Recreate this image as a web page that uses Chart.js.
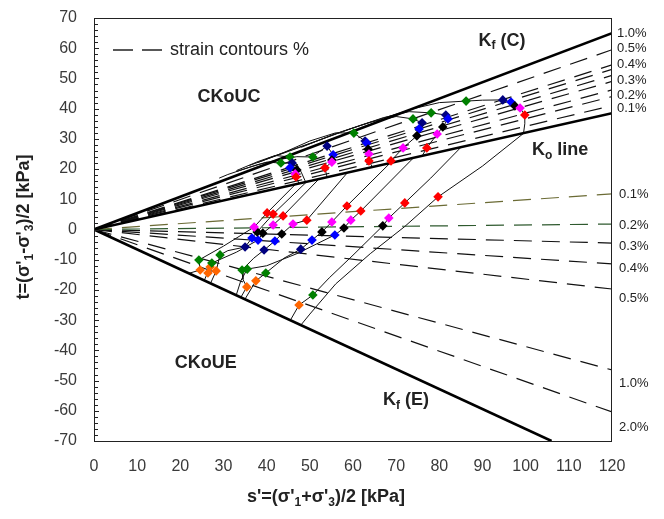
<!DOCTYPE html>
<html>
<head>
<meta charset="utf-8">
<script src="https://cdn.jsdelivr.net/npm/chart.js@4.4.0/dist/chart.umd.min.js"></script>
<style>
  html, body { margin: 0; padding: 0; background: #fff; }
</style>
</head>
<body>
<canvas id="stressPath" width="664" height="519"></canvas>
<script>
'use strict';

// failure envelopes and Ko line, [s', t] in kPa
const KF_C = [[0, 0], [120, 65]];
const KO_LINE = [[0, 0], [120, 38.5]];
const KF_E = [[0, 0], [106, -70]];

// strain contours, value of t where each one meets s' = 120
const UPPER_CONTOURS = [41, 44, 46.2, 49, 51, 53, 54.5, 59.5];
const LOWER_CONTOURS = [11.8, 1.8, -4.5, -11.4, -19.7, -46.5, -60.4];

// contour labels on the right hand side
const UPPER_LABELS = ['1.0%', '0.5%', '0.4%', '0.3%', '0.2%', '0.1%'];
const UPPER_LABEL_T = [65, 60, 54.8, 49.5, 44.5, 40.2];
const LOWER_LABELS = ['0.1%', '0.2%', '0.3%', '0.4%', '0.5%', '1.0%', '2.0%'];
const LOWER_LABEL_T = [11.5, 1.3, -5.5, -13, -22.7, -51, -65.5];

// CKoUC stress paths
const C1 = [[47.5, 15.2], [46.8, 17.4], [46.6, 18.4], [47.0, 19.7], [45.4, 20.4], [45.9, 22.0], [43.3, 22.0], [40, 22.3], [36, 20.6], [31, 18.2], [29, 17]];
const C1B = [[49, 15.8], [48, 19], [46.5, 22.5], [45.4, 24.0], [42, 24.5], [38, 22.5], [33, 19.5]];
const C2 = [[54, 17.3], [53.5, 20.4], [55.1, 22.3], [55.1, 23.0], [55.4, 24.7], [54.0, 27.6], [51.5, 25], [50.7, 24.0], [47, 24.1], [43, 23.2], [38, 21.5], [33, 19.2]];
const C3 = [[64.5, 20.6], [63.7, 22.7], [63.7, 25.0], [63.5, 26.6], [63.2, 28.6], [62.8, 29.3], [60.2, 31.9], [56, 32], [50, 29.3], [44, 25.5], [38, 22.2]];
const C4 = [[68, 21.7], [68.8, 22.7], [71.6, 27.0], [74.8, 31.0], [75.3, 33.3], [76.0, 35.3], [73.9, 36.6], [70, 37.4], [64, 35.5], [57, 32.2], [50, 28.4], [43, 24.8], [36, 21.2]];
const C5 = [[76, 24.3], [77.1, 27.0], [79.5, 31.6], [80.8, 33.9], [82.0, 36.6], [81.5, 37.9], [78.1, 38.6], [73, 39.0], [67, 37], [60, 33.6], [53, 30], [46, 26.5], [40, 23.4]];
const C6 = [[99.5, 31.8], [99.8, 35], [99.8, 37.9], [98.7, 40.2], [97.5, 40.9], [96.6, 42.2], [94.7, 42.9], [90, 42.8], [86.2, 42.5], [80, 42.0], [74, 40], [68, 37.3], [62, 34.6], [55, 31.2], [48, 27.2]];

// CKoUE stress paths
const E1 = [[99.5, 31.8], [90, 21], [79.7, 10.8], [72, 1], [64, -8], [56, -18], [50, -28], [48, -31.5]];
const E2 = [[85, 27.2], [78, 17], [72.0, 8.8], [68.3, 3.8], [66.9, 1.2], [60, -8.5], [54.5, -16], [50.7, -21.7], [47.5, -25], [45.5, -30]];
const E3 = [[74, 23.7], [61.8, 6.1], [59.5, 3.1], [57.9, 0.5], [55.8, -1.8], [47, -8], [40, -12], [35.5, -13.1], [34, -17], [33, -21.5]];
const E4 = [[68.6, 22], [58.6, 7.8], [55.1, 2.5], [52.8, -0.8], [50.5, -3.5], [47.9, -6.5], [44, -9.5], [39.8, -14.4], [37.5, -17.0], [35, -23]];
const E5 = [[58.7, 18.8], [49.3, 3.1], [46.1, 1.8], [43.5, -1.5], [41.9, -3.8], [39.4, -6.8], [37, -9.5], [34.3, -13.4], [34.5, -16.5], [35.4, -19.0], [34, -22.5]];
const E6 = [[52.1, 16.7], [43.8, 4.5], [41.5, 1.5], [39.1, -1.2], [38.0, -3.5], [33, -7.5], [27.3, -11.1], [26.9, -12.4], [25.5, -17]];
const E7 = [[49.2, 15.7], [41.5, 5.1], [37.8, -0.8], [36.6, -2.8], [35, -5.8], [31, -7], [29.2, -8.4], [28.3, -13.7], [27, -17.8]];
const E8 = [[46.7, 15], [40.1, 5.5], [37.1, 0.8], [30, -5.5], [24.3, -10.1], [24.6, -13.4], [22, -14.5]];

// strain markers along the paths
const RED_PTS = [[46.8, 17.4], [53.5, 20.4], [63.7, 22.7], [68.8, 22.7], [77.1, 27.0], [99.8, 37.9],
  [79.7, 10.8], [72.0, 8.8], [61.8, 6.1], [58.6, 7.8], [49.3, 3.1], [43.8, 4.5], [41.5, 5.1], [40.1, 5.5]];
const MAGENTA_PTS = [[46.6, 18.4], [55.1, 22.3], [63.7, 25.0], [71.6, 27.0], [79.5, 31.6], [98.7, 40.2],
  [37.1, 0.8], [41.5, 1.5], [46.1, 1.8], [55.1, 2.5], [59.5, 3.1], [68.3, 3.8]];
const BLACK_PTS = [[47.0, 19.7], [55.1, 23.0], [63.5, 26.6], [74.8, 31.0], [80.8, 33.9], [97.5, 40.9],
  [37.8, -0.8], [39.1, -1.2], [43.5, -1.5], [52.8, -0.8], [57.9, 0.5], [66.9, 1.2]];
const BLUE_PTS = [[45.4, 20.4], [55.4, 24.7], [63.2, 28.6], [75.3, 33.3], [82.0, 36.6], [96.6, 42.2],
  [36.6, -2.8], [38.0, -3.5], [41.9, -3.8], [50.5, -3.5], [55.8, -1.8]];
const NAVY_PTS = [[45.9, 22.0], [54.0, 27.6], [62.8, 29.3], [76.0, 35.3], [81.5, 37.9], [94.7, 42.9],
  [35, -5.8], [39.4, -6.8], [47.9, -6.5]];
const GREEN_PTS = [[43.3, 22.0], [45.4, 24.0], [50.7, 24.0], [60.2, 31.9], [73.9, 36.6], [78.1, 38.6], [86.2, 42.5],
  [24.3, -10.1], [29.2, -8.4], [27.3, -11.1], [34.3, -13.4], [35.5, -13.1], [39.8, -14.4], [50.7, -21.7]];
const ORANGE_PTS = [[24.6, -13.4], [26.9, -12.4], [26.4, -14.4], [28.3, -13.7], [35.4, -19.0], [37.5, -17.0], [47.5, -25]];

const FONT = '"Liberation Sans", Arial, sans-serif';
const pts = arr => arr.map(([x, y]) => ({ x, y }));

const datasets = [];

function addMarkers(data, color) {
  datasets.push({ data: pts(data), showLine: false, pointStyle: 'rectRot', pointRadius: 4.8,
    pointBackgroundColor: color, pointBorderWidth: 0, order: 0 });
}
addMarkers(RED_PTS, '#ff0000');
addMarkers(MAGENTA_PTS, '#ff00ff');
addMarkers(BLACK_PTS, '#000000');
addMarkers(BLUE_PTS, '#0000ff');
addMarkers(NAVY_PTS, '#000080');
addMarkers(GREEN_PTS, '#008000');
addMarkers(ORANGE_PTS, '#ff6600');

[KF_C, KO_LINE, KF_E].forEach(line => {
  datasets.push({ data: pts(line), showLine: true, borderColor: '#000', borderWidth: 2.6,
    pointRadius: 0, order: 1 });
});

[C1, C1B, C2, C3, C4, C5, C6, E1, E2, E3, E4, E5, E6, E7, E8].forEach(path => {
  datasets.push({ data: pts(path), showLine: true, borderColor: '#111', borderWidth: 1,
    pointRadius: 0, order: 2 });
});

UPPER_CONTOURS.forEach(v => {
  datasets.push({ data: pts([[0, 0], [120, v]]), showLine: true, borderColor: '#111',
    borderWidth: 1.2, borderDash: [18, 10], pointRadius: 0, order: 3 });
});
LOWER_CONTOURS.forEach((v, i) => {
  const col = i === 0 ? '#6b6b35' : (i === 1 ? '#2f5a2f' : '#111');
  datasets.push({ data: pts([[0, 0], [120, v]]), showLine: true, borderColor: col,
    borderWidth: 1.2, borderDash: [18, 10], pointRadius: 0, order: 3 });
});

// text drawn with real subscripts, parts = [text, isSub]
function drawRich(ctx, parts, x, y, size, bold) {
  const f = s => (bold ? 'bold ' : '') + s + 'px ' + FONT;
  const sub = Math.round(size * 0.65);
  let w = 0;
  parts.forEach(([t, s]) => { ctx.font = f(s ? sub : size); w += ctx.measureText(t).width; });
  let cx = x - w / 2;
  parts.forEach(([t, s]) => {
    ctx.font = f(s ? sub : size);
    ctx.fillText(t, cx, s ? y + size * 0.3 : y);
    cx += ctx.measureText(t).width;
  });
}

const ANNOTATIONS = [
  { parts: [['CKoUC']], s: 31.3, t: 43.9 },
  { parts: [['K'], ['f', true], [' (C)']], s: 94.5, t: 62.5 },
  { parts: [['K'], ['o', true], [' line']], s: 108, t: 26.3 },
  { parts: [['CKoUE']], s: 25.9, t: -44.2 },
  { parts: [['K'], ['f', true], [' (E)']], s: 72.3, t: -56.6 }
];

const decor = {
  id: 'decor',
  afterDraw(chart) {
    const { ctx, chartArea: a, scales: { x, y } } = chart;
    ctx.save();
    ctx.strokeStyle = '#222';
    ctx.lineWidth = 1;
    ctx.strokeRect(a.left + 0.5, a.top + 0.5, a.right - a.left - 1, a.bottom - a.top);
    // small ticks along the t axis
    for (let v = -70; v <= 70; v += 2) {
      const py = Math.round(y.getPixelForValue(v)) + 0.5;
      ctx.beginPath();
      ctx.moveTo(a.left, py);
      ctx.lineTo(a.left + (v % 10 === 0 ? 5 : 4), py);
      ctx.stroke();
    }

    ctx.fillStyle = '#222';
    ctx.textBaseline = 'middle';
    ctx.textAlign = 'left';
    ctx.font = '13px ' + FONT;
    UPPER_LABELS.forEach((l, i) => ctx.fillText(l, a.right + 5, y.getPixelForValue(UPPER_LABEL_T[i])));
    LOWER_LABELS.forEach((l, i) => ctx.fillText(l, a.right + 7, y.getPixelForValue(LOWER_LABEL_T[i])));

    // legend entry
    ctx.beginPath();
    ctx.setLineDash([20, 9]);
    ctx.lineWidth = 1.3;
    ctx.moveTo(a.left + 19, a.top + 32);
    ctx.lineTo(a.left + 69, a.top + 32);
    ctx.stroke();
    ctx.setLineDash([]);
    ctx.font = '18px ' + FONT;
    ctx.fillText('strain contours %', a.left + 76, a.top + 32);

    ANNOTATIONS.forEach(n => drawRich(ctx, n.parts, x.getPixelForValue(n.s), y.getPixelForValue(n.t), 18, true));

    // axis titles
    drawRich(ctx, [["s'=(σ'"], ['1', true], ["+σ'"], ['3', true], [')/2 [kPa]']], 326, 497, 18, true);
    ctx.translate(24, 227);
    ctx.rotate(-Math.PI / 2);
    drawRich(ctx, [["t=(σ'"], ['1', true], ["-σ'"], ['3', true], [')/2 [kPa]']], 0, 0, 18, true);
    ctx.restore();
  }
};

new Chart(document.getElementById('stressPath').getContext('2d'), {
  type: 'scatter',
  data: { datasets },
  options: {
    responsive: false,
    animation: false,
    events: [],
    layout: { padding: { top: 18, right: 52, left: 0, bottom: 0 } },
    plugins: { legend: { display: false }, tooltip: { enabled: false } },
    scales: {
      x: {
        type: 'linear', min: 0, max: 120,
        afterFit(s) { s.height = 78; s.paddingLeft = 0; s.paddingRight = 0; },
        grid: { display: false, drawTicks: false },
        border: { display: false },
        ticks: { stepSize: 10, padding: 16, color: '#3a3a3a', maxRotation: 0, autoSkip: false,
          font: { size: 16, family: FONT } }
      },
      y: {
        type: 'linear', min: -70, max: 70,
        afterFit(s) { s.width = 94; s.paddingTop = 0; s.paddingBottom = 0; },
        grid: { display: false, drawTicks: false },
        border: { display: false },
        ticks: { stepSize: 10, padding: 17, color: '#3a3a3a', autoSkip: false,
          font: { size: 16, family: FONT } }
      }
    }
  },
  plugins: [decor]
});
</script>
</body>
</html>
